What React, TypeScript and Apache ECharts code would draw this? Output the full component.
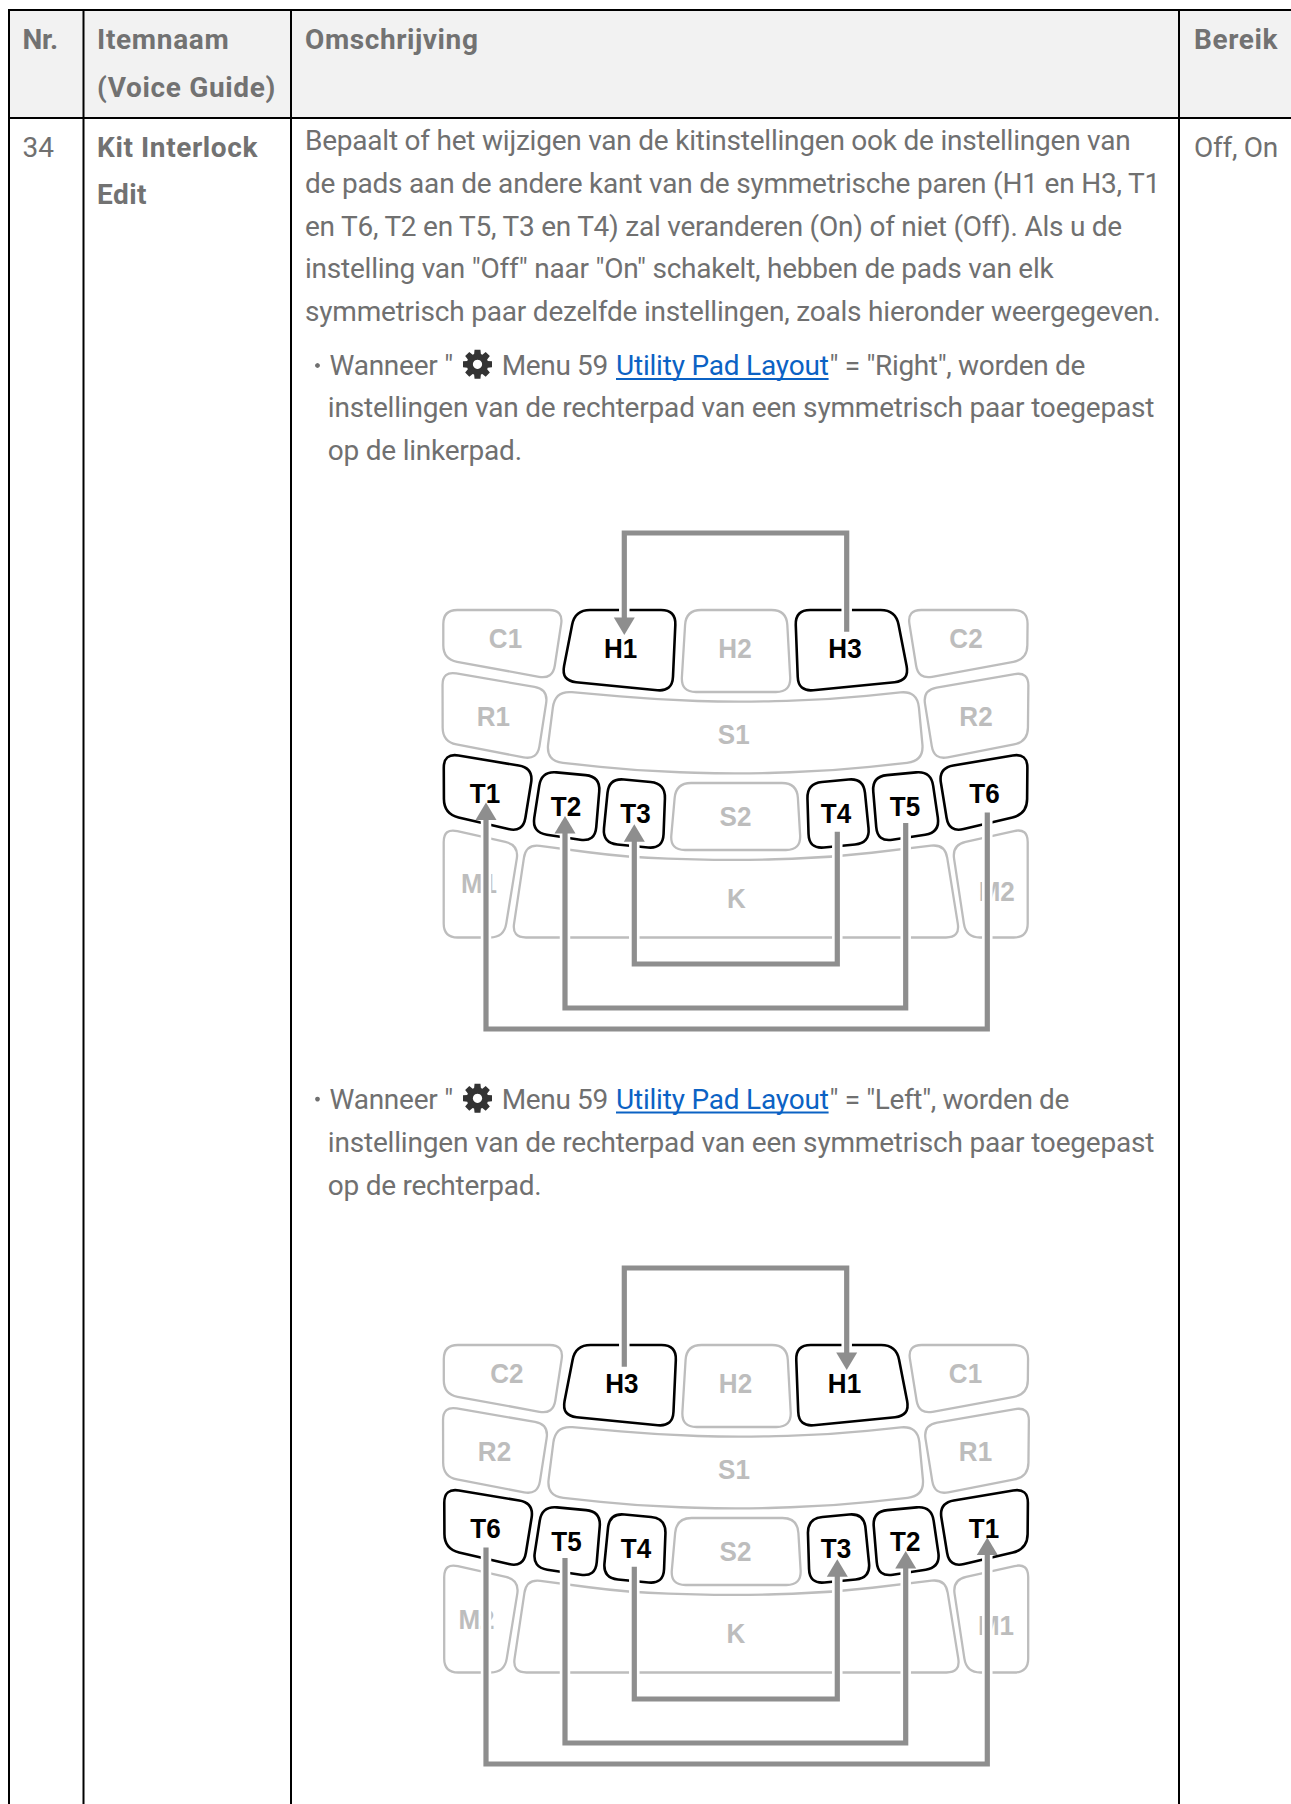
import React, { useEffect, useRef } from "react";
import * as echarts from "echarts";

// ---- content ----
const headerNr = "Nr.";
const headerItem = ["Itemnaam", "(Voice Guide)"];
const headerDesc = "Omschrijving";
const headerRange = "Bereik";
const rowNr = "34";
const rowItem = ["Kit Interlock", "Edit"];
const rowRange = "Off, On";
const introLines = [
  "Bepaalt of het wijzigen van de kitinstellingen ook de instellingen van",
  "de pads aan de andere kant van de symmetrische paren (H1 en H3, T1",
  "en T6, T2 en T5, T3 en T4) zal veranderen (On) of niet (Off). Als u de",
  'instelling van "Off" naar "On" schakelt, hebben de pads van elk',
  "symmetrisch paar dezelfde instellingen, zoals hieronder weergegeven.",
];
const linkText = "Utility Pad Layout";
const bulletRightTail = '" = "Right", worden de';
const bulletLeftTail = '" = "Left", worden de';
const bulletRightRest = [
  "instellingen van de rechterpad van een symmetrisch paar toegepast",
  "op de linkerpad.",
];
const bulletLeftRest = [
  "instellingen van de rechterpad van een symmetrisch paar toegepast",
  "op de rechterpad.",
];
const labelsRight = ["C1", "H1", "H2", "H3", "C2", "R1", "S1", "R2", "T1", "T2", "T3", "S2", "T4", "T5", "T6", "M1", "K", "M2"];
const labelsLeft = ["C2", "H3", "H2", "H1", "C1", "R2", "S1", "R1", "T6", "T5", "T4", "S2", "T3", "T2", "T1", "M2", "K", "M1"];

// ---- layout ----
const W = 1291;
const H = 1804;
const GRAY = "#707070";
const HEAD = "#727272";
const PAD_GRAY = "#bdbdbd";
const LINK = "#0b62c4";
const CONN = "#8e8e8e";
const DY = 735;

type V = number[];
const padShapes: { name: string; r: number; v: V[]; active?: boolean }[] = [
  { name: "C1", r: 14, v: [[443.3, 610], [563.3, 610], [552.7, 679.3], [443.3, 659.3]] },
  { name: "H1", r: 15, active: true, v: [[575, 610], [676, 610], [672.3, 691.7], [561.2, 680.7]] },
  { name: "H2", r: 15, v: [[686, 610], [786.5, 610], [791, 692], [681, 692]] },
  { name: "H3", r: 15, active: true, v: [[795.2, 610], [895.7, 610], [909.5, 680.7], [798.3, 691.7]] },
  { name: "C2", r: 14, v: [[907.2, 610], [1027.7, 610], [1027.2, 659.3], [918.3, 679.3]] },
  { name: "R1", r: 14, v: [[442.5, 671], [548.3, 689.3], [537.3, 760], [442.7, 741.7]] },
  { name: "S1", r: 17, v: [[555, 690.7], [660, 700, 40], [735, 702, 40], [826.7, 700, 40], [917.3, 690.7], [924, 761], [830, 771, 40], [735, 774, 40], [640, 771, 40], [546, 761]] },
  { name: "R2", r: 14, v: [[922.8, 690], [1028.5, 671.7], [1027.8, 741.7], [934, 760]] },
  { name: "T1", r: 15, active: true, v: [[443.7, 753], [533.5, 768], [523, 832.5], [444, 814]] },
  { name: "T2", r: 15, active: true, v: [[541.5, 771], [600.5, 776.5], [595, 842], [532, 832.5]] },
  { name: "T3", r: 15, active: true, v: [[609, 778], [665.5, 783.5], [663, 849], [602.5, 843]] },
  { name: "S2", r: 15, v: [[676, 783], [797, 783], [801, 850], [670, 850]] },
  { name: "T4", r: 15, active: true, v: [[807, 783.5], [863.5, 778], [870, 843], [809, 849]] },
  { name: "T5", r: 15, active: true, v: [[872, 776.5], [931, 771], [940, 832.5], [877.5, 842]] },
  { name: "T6", r: 15, active: true, v: [[938.5, 768], [1027.5, 753], [1027, 814], [949, 832.5]] },
  { name: "M1", r: 14, v: [[443.7, 828], [519, 845], [504, 937.5], [443.7, 937.5]] },
  { name: "K", r: 14, v: [[526, 844], [628, 857.5, 40], [735, 860.5, 40], [832, 857.5, 40], [945, 844], [960, 937.5], [512, 937.5]] },
  { name: "M2", r: 14, v: [[952, 845], [1027.7, 828], [1027.7, 937.5], [966, 937.5]] },
];
const labelSlotsRight: number[][] = [
  [505.5, 638.3], [620.7, 648.3], [735, 648.6], [845, 648.3], [966, 638.3],
  [493.3, 716.7], [733.7, 734.5], [976, 716.7],
  [485, 794], [566, 806.7], [635.5, 813.3], [735.5, 817], [836, 813.3], [905, 806.7], [984.5, 794],
  [479, 884], [736.3, 899], [996.7, 891.7],
];
const labelSlotsLeft: number[][] = [
  [506.8, 639], [621.8, 648.3], [735.5, 648.6], [844.5, 648.3], [965.5, 638.8],
  [494.5, 716.7], [734, 734.5], [975.5, 717],
  [485.5, 794], [566.5, 806.7], [636, 813.3], [735.5, 817], [836, 813.3], [905.2, 806.7], [984, 794],
  [476.5, 884.3], [736, 899], [996, 891],
];

// rounded polygon
function padPath(v: V[], r: number): string {
  const n = v.length;
  let d = "";
  for (let i = 0; i < n; i++) {
    const c = v[i], p = v[(i + n - 1) % n], q = v[(i + 1) % n];
    const rad = c[2] ?? r;
    const dp = Math.hypot(p[0] - c[0], p[1] - c[1]);
    const dq = Math.hypot(q[0] - c[0], q[1] - c[1]);
    const a = Math.min(rad, dp / 2) / dp, b = Math.min(rad, dq / 2) / dq;
    const x0 = c[0] + (p[0] - c[0]) * a, y0 = c[1] + (p[1] - c[1]) * a;
    const x1 = c[0] + (q[0] - c[0]) * b, y1 = c[1] + (q[1] - c[1]) * b;
    d += (i === 0 ? "M" : "L") + x0 + " " + y0 + " Q" + c[0] + " " + c[1] + " " + x1 + " " + y1 + " ";
  }
  return d + "Z";
}
padShapes.forEach((p) => {
  echarts.graphic.registerShape("pad" + p.name, echarts.graphic.extendPath(padPath(p.v, p.r), {}));
});

function gearPath(): string {
  const pts: string[] = [];
  for (let k = 0; k < 8; k++) {
    const a = (k * Math.PI) / 4 - Math.PI / 2;
    [[10.8, -0.32], [14.8, -0.2], [14.8, 0.2], [10.8, 0.32]].forEach(([rr, da]) => {
      pts.push((rr * Math.cos(a + da)).toFixed(2) + " " + (rr * Math.sin(a + da)).toFixed(2));
    });
  }
  return "M" + pts.join(" L") + " Z";
}
echarts.graphic.registerShape("gear", echarts.graphic.extendPath(gearPath(), {}));

// text target widths, by content (start → end in px)
const fitWidths: Record<string, number> = {
  [headerNr]: 35.5,
  [headerItem[0]]: 132.5,
  [headerItem[1]]: 179,
  [headerDesc]: 173.5,
  [headerRange]: 84,
  [rowNr]: 31.7,
  [rowItem[0]]: 161,
  [rowItem[1]]: 50,
  [rowRange]: 84,
  [introLines[0]]: 825.5,
  [introLines[1]]: 855,
  [introLines[2]]: 817,
  [introLines[3]]: 748.5,
  [introLines[4]]: 855.5,
  ['Wanneer "']: 123.5,
  ["Menu 59"]: 106,
  [linkText]: 212.6,
  [bulletRightTail]: 255.5,
  [bulletLeftTail]: 239.5,
  [bulletRightRest[0]]: 826.5,
  [bulletRightRest[1]]: 194,
  [bulletLeftRest[1]]: 213.5,
};

function txt(s: string, x: number, baseline: number, size: number, weight: number | string, fill: string) {
  return {
    type: "text",
    x,
    y: baseline - 0.3415 * size,
    silent: true,
    style: { text: s, fill, font: `${weight} ${size}px Roboto`, textAlign: "left", textVerticalAlign: "middle" },
  };
}
function box(x: number, y: number, width: number, height: number, fill: string) {
  return { type: "rect", silent: true, shape: { x, y, width, height }, style: { fill } };
}
function bullet(yy: number[], tail: string, rest: string[], gearY: number) {
  const out: any[] = [];
  out.push({ type: "circle", silent: true, shape: { cx: 317.5, cy: yy[0] - 9.5, r: 2.4 }, style: { fill: GRAY } });
  out.push(txt('Wanneer "', 329.5, yy[0], 28, 400, GRAY));
  out.push({ type: "gear", x: 477.5, y: gearY, silent: true, style: { fill: "#333333" } });
  out.push({ type: "circle", silent: true, shape: { cx: 477.5, cy: gearY, r: 4.6 }, style: { fill: "#ffffff" } });
  out.push(txt("Menu 59", 501.8, yy[0], 28, 400, GRAY));
  out.push(txt(linkText, 616, yy[0], 28, 400, LINK));
  out.push(box(616, yy[0] + 3, 212.6, 2, LINK));
  out.push(txt(tail, 829.5, yy[0], 28, 400, GRAY));
  out.push(txt(rest[0], 327.8, yy[1], 28, 400, GRAY));
  out.push(txt(rest[1], 327.8, yy[2], 28, 400, GRAY));
  return out;
}

function conn(pts: number[][], tip: number[] | null, arrowDown = false) {
  const out: any[] = [];
  out.push({ type: "polyline", silent: true, shape: { points: pts }, style: { stroke: "#ffffff", lineWidth: 10.5, fill: "none", lineJoin: "miter" } });
  out.push({ type: "polyline", silent: true, shape: { points: pts }, style: { stroke: CONN, lineWidth: 5.2, fill: "none", lineJoin: "miter" } });
  if (tip) {
    const by = tip[1] + (arrowDown ? -17.5 : 17.5);
    out.push({
      type: "polygon",
      silent: true,
      shape: { points: [[tip[0], tip[1]], [tip[0] - 10.5, by], [tip[0] + 10.5, by]] },
      style: { fill: CONN },
    });
  }
  return out;
}

function diagram(labels: string[], slots: number[][], dx: number, dy: number, left: boolean) {
  const out: any[] = [];
  padShapes.forEach((p) => {
    out.push({
      type: "pad" + p.name,
      x: dx,
      y: dy,
      silent: true,
      style: { fill: "none", stroke: p.active ? "#000000" : PAD_GRAY, lineWidth: p.active ? 2.6 : 2.3 },
    });
  });
  const label = (i: number, color: string) => ({
    type: "text",
    x: slots[i][0],
    y: slots[i][1] + dy,
    scaleX: 0.93,
    silent: true,
    style: { text: labels[i], fill: color, font: "bold 28px 'Liberation Sans'", textAlign: "center", textVerticalAlign: "middle" },
  });
  padShapes.forEach((p, i) => {
    if (!p.active) out.push(label(i, PAD_GRAY));
  });
  const lx = [624.3, 634.3, 565, 486];
  const rx = [846.7, 837.3, 905.7, 987.3];
  const hy = [533 + dy, 964 + dy, 1008 + dy, 1029 + dy];
  const startTop = [617, 824.5 + 5, 816 + 5, 803 + 5];
  const tail = [631.7, 831.7, 823, 812.5];
  const tips = [635, 824.3, 816, 802.5];
  if (!left) {
    out.push(...conn([[lx[0], 620 + dy], [lx[0], hy[0]], [rx[0], hy[0]], [rx[0], tail[0] + dy]], [lx[0], tips[0] + dy], true));
  } else {
    out.push(...conn([[lx[0], tail[0] + dy], [lx[0], hy[0]], [rx[0], hy[0]], [rx[0], 620 + dy]], [rx[0], tips[0] + dy], true));
  }
  for (let i = 1; i < 4; i++) {
    if (!left) {
      out.push(...conn([[lx[i], startTop[i] + dy], [lx[i], hy[i]], [rx[i], hy[i]], [rx[i], tail[i] + dy]], [lx[i], tips[i] + dy]));
    } else {
      out.push(...conn([[lx[i], tail[i] + dy], [lx[i], hy[i]], [rx[i], hy[i]], [rx[i], startTop[i] + dy]], [rx[i], tips[i] + dy]));
    }
  }
  padShapes.forEach((p, i) => {
    if (p.active) out.push(label(i, "#000000"));
  });
  return out;
}

function buildElements() {
  const els: any[] = [];
  els.push(box(8, 10, W - 8, 108, "#f2f2f2"));
  els.push(txt(headerNr, 22.5, 49.3, 28, 700, HEAD));
  els.push(txt(headerItem[0], 97, 49.3, 28, 700, HEAD));
  els.push(txt(headerItem[1], 97, 96.7, 28, 700, HEAD));
  els.push(txt(headerDesc, 305, 49.3, 28, 700, HEAD));
  els.push(txt(headerRange, 1194, 49.3, 28, 700, HEAD));
  els.push(txt(rowNr, 22.5, 156.7, 28, 400, GRAY));
  els.push(txt(rowItem[0], 97, 156.7, 28, 700, HEAD));
  els.push(txt(rowItem[1], 97, 204.3, 28, 700, HEAD));
  els.push(txt(rowRange, 1194, 156.7, 28, 400, GRAY));
  const introY = [150.3, 193, 235.7, 278.4, 321];
  introLines.forEach((s, i) => els.push(txt(s, 305, introY[i], 28, 400, GRAY)));
  els.push(...bullet([375, 417.3, 460], bulletRightTail, bulletRightRest, 364.3));
  els.push(...diagram(labelsRight, labelSlotsRight, 0, 0, false));
  els.push(...bullet([1108.6, 1151.7, 1195], bulletLeftTail, bulletLeftRest, 1098.3));
  els.push(...diagram(labelsLeft, labelSlotsLeft, 0.5, DY, true));
  // table rules
  els.push(box(8, 9, W - 8, 2, "#000000"));
  els.push(box(8, 117, W - 8, 2, "#000000"));
  els.push(box(8, 9, 2, H - 9, "#000000"));
  els.push(box(82.5, 9, 2, H - 9, "#000000"));
  els.push(box(290, 9, 2, H - 9, "#000000"));
  els.push(box(1178, 9, 2, H - 9, "#000000"));
  return els;
}

export default function App() {
  const ref = useRef<HTMLDivElement>(null);
  useEffect(() => {
    document.body.style.margin = "0";
    const chart = echarts.init(ref.current!, undefined, { renderer: "svg" });
    chart.setOption({
      animation: false,
      backgroundColor: "#ffffff",
      graphic: { elements: buildElements() },
    });
    ref.current!.querySelectorAll("text").forEach((t: any) => {
      const s = t.textContent || "";
      const w = fitWidths[s];
      if (w) {
        const len = t.getComputedTextLength();
        t.style.letterSpacing = ((w - len) / s.length).toFixed(3) + "px";
      }
    });
    return () => chart.dispose();
  }, []);
  return <div ref={ref} style={{ position: "fixed", left: 0, top: 0, width: W, height: H }} />;
}
